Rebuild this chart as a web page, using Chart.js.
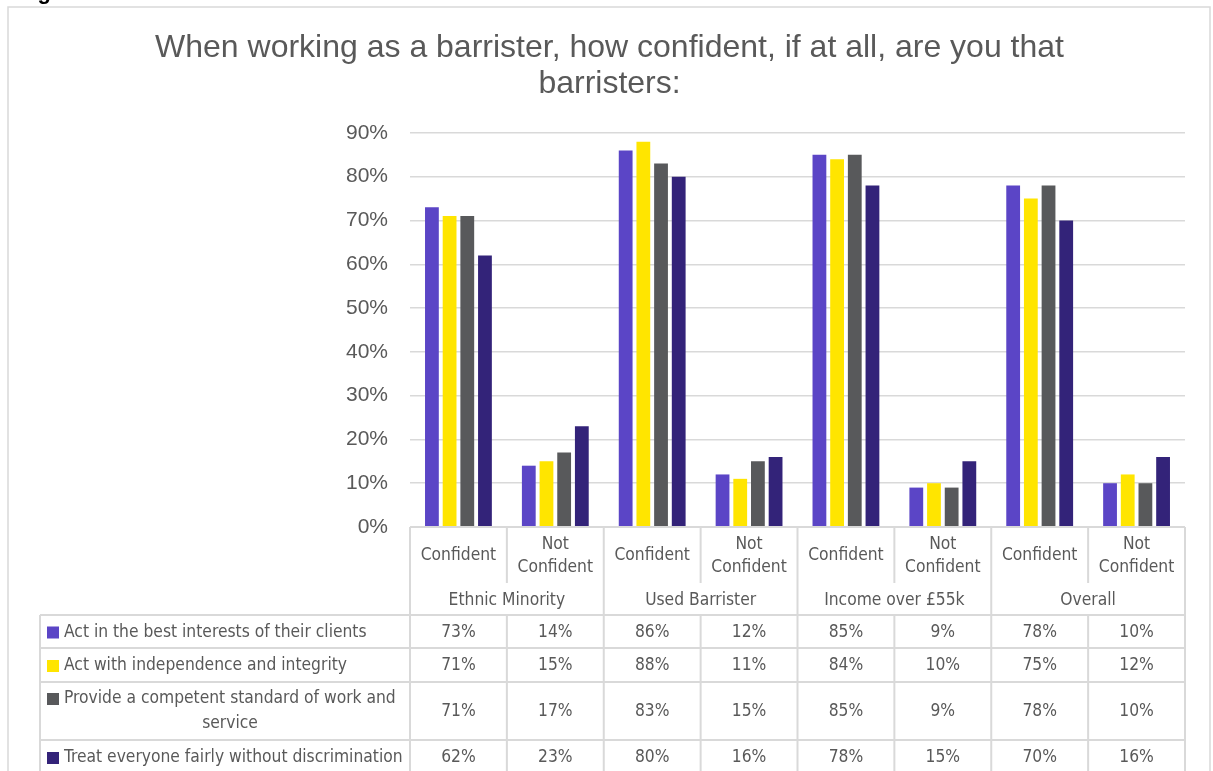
<!DOCTYPE html>
<html>
<head>
<meta charset="utf-8">
<script src="https://cdn.jsdelivr.net/npm/chart.js@4.4.1/dist/chart.umd.min.js"></script>
<style>
  body { margin: 0; background: #fff; overflow: hidden; }
  #wrap { position: relative; width: 1213px; height: 771px; }
  #fig { position: absolute; left: 18px; top: -19px; font: bold 22px "Liberation Sans", Arial, sans-serif; line-height: 22px; color: #000; }
</style>
</head>
<body>
<div id="wrap">
  <div id="fig">Figure 3</div>
  <canvas id="barristerChart" width="1213" height="771"></canvas>
</div>
<script>
// Chart data
const categories = ['Confident', 'Not Confident', 'Confident', 'Not Confident',
                    'Confident', 'Not Confident', 'Confident', 'Not Confident'];
const groups = ['Ethnic Minority', 'Used Barrister', 'Income over £55k', 'Overall'];
const seriesNames = [
    'Act in the best interests of their clients',
    'Act with independence and integrity',
    'Provide a competent standard of work and service',
    'Treat everyone fairly without discrimination'
];
const bestInterests = [73, 14, 86, 12, 85, 9, 78, 10];
const independence = [71, 15, 88, 11, 84, 10, 75, 12];
const competent = [71, 17, 83, 15, 85, 9, 78, 10];
const treatFairly = [62, 23, 80, 16, 78, 15, 70, 16];
const yTicks = [0, 10, 20, 30, 40, 50, 60, 70, 80, 90];

const colors = ['#5B45C6', '#FFE500', '#58595B', '#332379'];
const textColor = '#595959';
const lineColor = '#D9D9D9';
const tableFont = '17.3px "Liberation Sans Narrow", "DejaVu Sans Condensed", sans-serif';

// Data table under the plot, positioned from the x scale
const dataTablePlugin = {
    id: 'dataTable',
    beforeDraw(chart) {
        const ctx = chart.ctx;
        ctx.save();
        ctx.strokeStyle = lineColor;
        ctx.lineWidth = 1.5;
        ctx.strokeRect(8, 7, 1202, 800);  // outer frame
        ctx.restore();
    },
    afterDraw(chart) {
        const { ctx, chartArea } = chart;
        const x = chart.scales.x;
        const half = (x.getPixelForValue(1) - x.getPixelForValue(0)) / 2;
        const top = chartArea.bottom;
        const left = chartArea.left, right = chartArea.right;
        const tableLeft = 40;
        const headBottom = top + 56;
        const groupBottom = top + 88;
        // row boundaries (top/bottom) for each series row
        const rows = [[groupBottom, top + 121], [top + 121, top + 155], [top + 155, top + 213], [top + 213, top + 260]];
        const bottom = 800;
        const series = chart.data.datasets;

        ctx.save();
        ctx.strokeStyle = lineColor;
        ctx.lineWidth = 2;
        ctx.beginPath();
        // top line
        ctx.moveTo(left, top); ctx.lineTo(right, top);
        // row lines
        rows.forEach(r => { ctx.moveTo(tableLeft, r[0]); ctx.lineTo(right, r[0]); });
        // left border
        ctx.moveTo(tableLeft, groupBottom); ctx.lineTo(tableLeft, bottom);
        // vertical lines
        for (let i = 0; i <= categories.length; i++) {
            const xp = x.getPixelForValue(0) - half + i * 2 * half;
            if (i % 2 === 0) {
                ctx.moveTo(xp, top); ctx.lineTo(xp, bottom);
            } else {
                ctx.moveTo(xp, top); ctx.lineTo(xp, headBottom);
                ctx.moveTo(xp, groupBottom); ctx.lineTo(xp, bottom);
            }
        }
        ctx.stroke();

        ctx.fillStyle = textColor;
        ctx.font = tableFont;
        ctx.textAlign = 'center';
        ctx.textBaseline = 'middle';
        // category labels
        categories.forEach((c, i) => {
            const cx = x.getPixelForValue(i);
            const words = c.split(' ');
            if (words.length > 1) {
                ctx.fillText(words[0], cx, top + 18);
                ctx.fillText(words.slice(1).join(' '), cx, top + 41);
            } else {
                ctx.fillText(c, cx, top + 29);
            }
        });
        // group labels
        groups.forEach((g, i) => {
            const cx = (x.getPixelForValue(2 * i) + x.getPixelForValue(2 * i + 1)) / 2;
            ctx.fillText(g, cx, top + 74);
        });
        // values
        series.forEach((ds, s) => {
            const cy = (rows[s][0] + Math.min(rows[s][1], 771 + 3)) / 2 + 1;
            ds.data.forEach((v, i) => {
                ctx.fillText(v + '%', x.getPixelForValue(i), cy);
            });
        });
        // legend column
        series.forEach((ds, s) => {
            const r = rows[s];
            const name = ds.label;
            ctx.textAlign = 'left';
            if (s === 2) {
                const line1 = 'Provide a competent standard of work and';
                const cy = r[0] + 17;
                ctx.fillStyle = ds.backgroundColor;
                ctx.fillRect(47, cy - 6, 12, 12);
                ctx.fillStyle = textColor;
                ctx.fillText(line1, 64, cy);
                ctx.textAlign = 'center';
                ctx.fillText(name.slice(line1.length + 1), 230, cy + 25);
            } else {
                const cy = s === 3 ? r[0] + 18 : (r[0] + r[1]) / 2 + 1;
                ctx.fillStyle = ds.backgroundColor;
                ctx.fillRect(47, cy - 6, 12, 12);
                ctx.fillStyle = textColor;
                ctx.fillText(name, 64, cy);
            }
        });
        ctx.restore();
    }
};

const values = [bestInterests, independence, competent, treatFairly];

const barristerConfig = {
    type: 'bar',
    data: {
        labels: categories,
        datasets: values.map((d, i) => ({
            label: seriesNames[i],
            data: d,
            backgroundColor: colors[i],
            categoryPercentage: 0.73,
            barPercentage: 0.78
        }))
    },
    options: {
        responsive: false,
        animation: false,
        layout: {
            padding: { left: 34, right: 28, top: 0, bottom: 244 }
        },
        plugins: {
            legend: { display: false },
            tooltip: { enabled: false },
            title: {
                display: true,
                text: ['When working as a barrister, how confident, if at all, are you that', 'barristers:'],
                color: textColor,
                font: { family: '"Liberation Sans", Arial, sans-serif', size: 32, weight: 'normal', lineHeight: 1.1 },
                padding: { top: 31, bottom: 31.5 }
            }
        },
        scales: {
            x: { display: false },
            y: {
                min: 0,
                max: 90,
                afterFit: scale => { scale.width = 376; },
                afterBuildTicks: scale => { scale.ticks = yTicks.map(v => ({ value: v })); },
                border: { display: false },
                grid: { color: lineColor, lineWidth: 1.5, drawTicks: false },
                ticks: {
                    color: textColor,
                    padding: 22,
                    font: { family: '"Liberation Sans", Arial, sans-serif', size: 21 },
                    callback: v => v + '%'
                }
            }
        }
    },
    plugins: [dataTablePlugin]
};

const barristerChart = new Chart(
    document.getElementById('barristerChart'),
    barristerConfig
);
</script>
</body>
</html>
